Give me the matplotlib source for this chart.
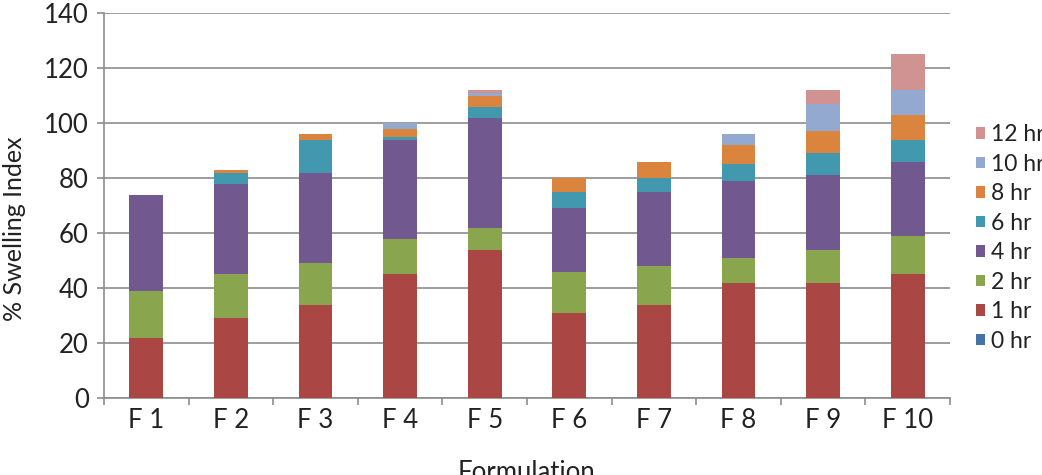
import numpy as np
import matplotlib
matplotlib.use("Agg")
import matplotlib.pyplot as plt
from matplotlib.ticker import FixedLocator

plt.rcParams['font.family'] = ['Lato', 'DejaVu Sans']

# data
formulations = ['F 1', 'F 2', 'F 3', 'F 4', 'F 5', 'F 6', 'F 7', 'F 8', 'F 9', 'F 10']
series_names = ['0 hr', '1 hr', '2 hr', '4 hr', '6 hr', '8 hr', '10 hr', '12 hr']
hr0 = [0, 0, 0, 0, 0, 0, 0, 0, 0, 0]
hr1 = [22, 29, 34, 45, 54, 31, 34, 42, 42, 45]
hr2 = [17, 16, 15, 13, 8, 15, 14, 9, 12, 14]
hr4 = [35, 33, 33, 36, 40, 23, 27, 28, 27, 27]
hr6 = [0, 4, 12, 1, 4, 6, 5, 6, 8, 8]
hr8 = [0, 1, 2, 3, 4, 5, 6, 7, 8, 9]
hr10 = [0, 0, 0, 2, 1, 0, 0, 4, 10, 9]
hr12 = [0, 0, 0, 0, 1, 0, 0, 0, 5, 13]
colors = ['#4572A7', '#AA4643', '#89A54E', '#71588F', '#4198AF', '#DB843D', '#93A9CF', '#D19392']

series = [hr0, hr1, hr2, hr4, hr6, hr8, hr10, hr12]

fig = plt.figure(figsize=(10.42, 4.75), dpi=100)
ax = fig.add_axes([104/1042, 77/475, 846/1042, 385/475])

x = np.arange(len(formulations))
bottom = np.zeros(len(formulations))
handles = []
for name, vals, c in zip(series_names, series, colors):
    b = ax.bar(x, vals, width=0.4, bottom=bottom, color=c, label=name, zorder=3)
    handles.append(b)
    bottom += np.array(vals)

ax.set_xlim(-0.5, len(formulations) - 0.5)
ax.set_ylim(0, 140)
ax.set_yticks(np.arange(0, 141, 20))
ax.yaxis.grid(True, color='#8c8c8c', linewidth=1.2, zorder=0)
ax.set_axisbelow(True)

ax.set_xticks(x)
ax.set_xticklabels(formulations)
ax.xaxis.set_minor_locator(FixedLocator(np.arange(-0.5, len(formulations), 1.0)))
ax.tick_params(axis='x', which='major', length=0, pad=7, labelsize=18.5, colors='#222222')
ax.tick_params(axis='x', which='minor', length=5, width=1.2, color='#8c8c8c', direction='out')
ax.tick_params(axis='y', length=5, width=1.2, color='#8c8c8c', pad=6, labelsize=18.5, labelcolor='#222222')

for s in ['top', 'right']:
    ax.spines[s].set_visible(False)
for s in ['left', 'bottom']:
    ax.spines[s].set_color('#8c8c8c')
    ax.spines[s].set_linewidth(1.2)

ax.set_ylabel('% Swelling Index', fontsize=18, color='#222222')
ax.yaxis.set_label_coords(-78/846, 0.44)
fig.text(527/1042, -10/475, 'Formulation', fontsize=18.5, color='#222222', ha='center', va='bottom')

leg = fig.legend(handles[::-1], series_names[::-1], loc='center left',
                 bbox_to_anchor=(976/1042, 237/475), frameon=False,
                 fontsize=16.5, handlelength=0.4, handleheight=0.4,
                 handletextpad=0.25, labelspacing=0.37, borderaxespad=0,
                 borderpad=0)
for t in leg.get_texts():
    t.set_color('#222222')

fig.savefig('out.png', dpi=100)
